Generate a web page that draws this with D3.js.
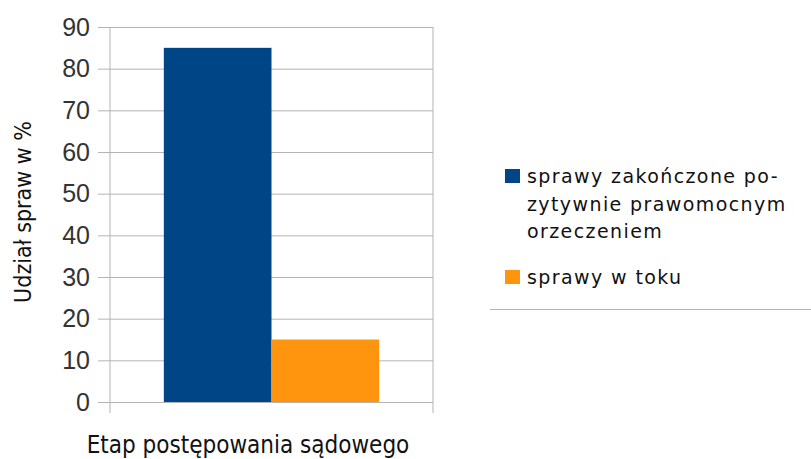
<!DOCTYPE html>
<html>
<head>
<meta charset="utf-8">
<script src="https://cdn.jsdelivr.net/npm/d3@7"></script>
<style>
  html, body { margin: 0; padding: 0; background: #fff; }
  svg { display: block; }
</style>
</head>
<body>
<div id="chart"></div>
<script>
const categories = ["Etap postępowania sądowego"];
const seriesNames = ["sprawy zakończone pozytywnie prawomocnym orzeczeniem", "sprawy w toku"];
const seriesValues = [[85], [15]];
const seriesColors = ["#004586", "#ff950e"];
const legendLines = [["sprawy zakończone po-", "zytywnie prawomocnym", "orzeczeniem"], ["sprawy w toku"]];
const yTicks = [0, 10, 20, 30, 40, 50, 60, 70, 80, 90];

const width = 811, height = 459;
const margin = { top: 27, right: 378, bottom: 57, left: 110 };
const plotW = width - margin.left - margin.right;
const plotH = height - margin.top - margin.bottom;

const svg = d3.select("#chart").append("svg")
    .attr("width", width)
    .attr("height", height);

const g = svg.append("g").attr("transform", `translate(${margin.left},${margin.top})`);

const y = d3.scaleLinear().domain([0, 90]).range([plotH, 0]);
const x0 = d3.scaleBand().domain(categories).range([0, plotW]).paddingInner(0).paddingOuter(0.25);
const x1 = d3.scaleBand().domain(seriesNames).range([0, x0.bandwidth()]);

// gridlines + ticks
g.append("g")
    .call(d3.axisLeft(y).tickValues(yTicks).tickSize(-plotW).tickPadding(20))
    .call(a => a.select(".domain").remove())
    .call(a => a.selectAll(".tick line").attr("stroke", "#b3b3b3").attr("x1", -12))
    .call(a => a.selectAll(".tick text")
        .attr("font-family", "'Liberation Sans', Arial, sans-serif")
        .attr("font-size", 25)
        .attr("fill", "#333"));

// vertical axis lines
[0, plotW].forEach(xv => {
    g.append("line")
        .attr("x1", xv).attr("x2", xv)
        .attr("y1", 0).attr("y2", plotH + 11)
        .attr("stroke", "#b3b3b3");
});

// bars
const groups = g.selectAll("g.cat").data(categories).join("g")
    .attr("class", "cat")
    .attr("transform", d => `translate(${x0(d)},0)`);

groups.selectAll("rect")
    .data((d, ci) => seriesNames.map((s, si) => ({ s, v: seriesValues[si][ci], c: seriesColors[si] })))
    .join("rect")
    .attr("x", d => x1(d.s))
    .attr("y", d => y(d.v))
    .attr("width", x1.bandwidth())
    .attr("height", d => plotH - y(d.v))
    .attr("fill", d => d.c);

// axis titles
svg.append("text")
    .attr("transform", `translate(31,212) rotate(-90)`)
    .attr("text-anchor", "middle")
    .attr("font-family", "'DejaVu Sans Condensed', 'DejaVu Sans', sans-serif")
    .attr("font-size", 23)
    .attr("fill", "#111")
    .text("Udział spraw w %");

svg.append("text")
    .attr("x", 248)
    .attr("y", 453)
    .attr("text-anchor", "middle")
    .attr("font-family", "'DejaVu Sans Condensed', 'DejaVu Sans', sans-serif")
    .attr("font-size", 24)
    .attr("fill", "#111")
    .text(categories[0]);

// legend
const legend = svg.append("g")
    .attr("font-family", "'DejaVu Sans', Verdana, sans-serif")
    .attr("font-size", 19)
    .attr("letter-spacing", 1.4)
    .attr("fill", "#111");
const legendY = [183, 284];
legendLines.forEach((lines, i) => {
    legend.append("rect")
        .attr("x", 505).attr("y", legendY[i] - 14)
        .attr("width", 15).attr("height", 14)
        .attr("fill", seriesColors[i]);
    const t = legend.append("text").attr("x", 527).attr("y", legendY[i]);
    lines.forEach((ln, j) => {
        t.append("tspan").attr("x", 527).attr("dy", j === 0 ? 0 : 27.5).text(ln);
    });
});
legend.append("line")
    .attr("x1", 490).attr("x2", 811)
    .attr("y1", 309.5).attr("y2", 309.5)
    .attr("stroke", "#b3b3b3");
</script>
</body>
</html>
